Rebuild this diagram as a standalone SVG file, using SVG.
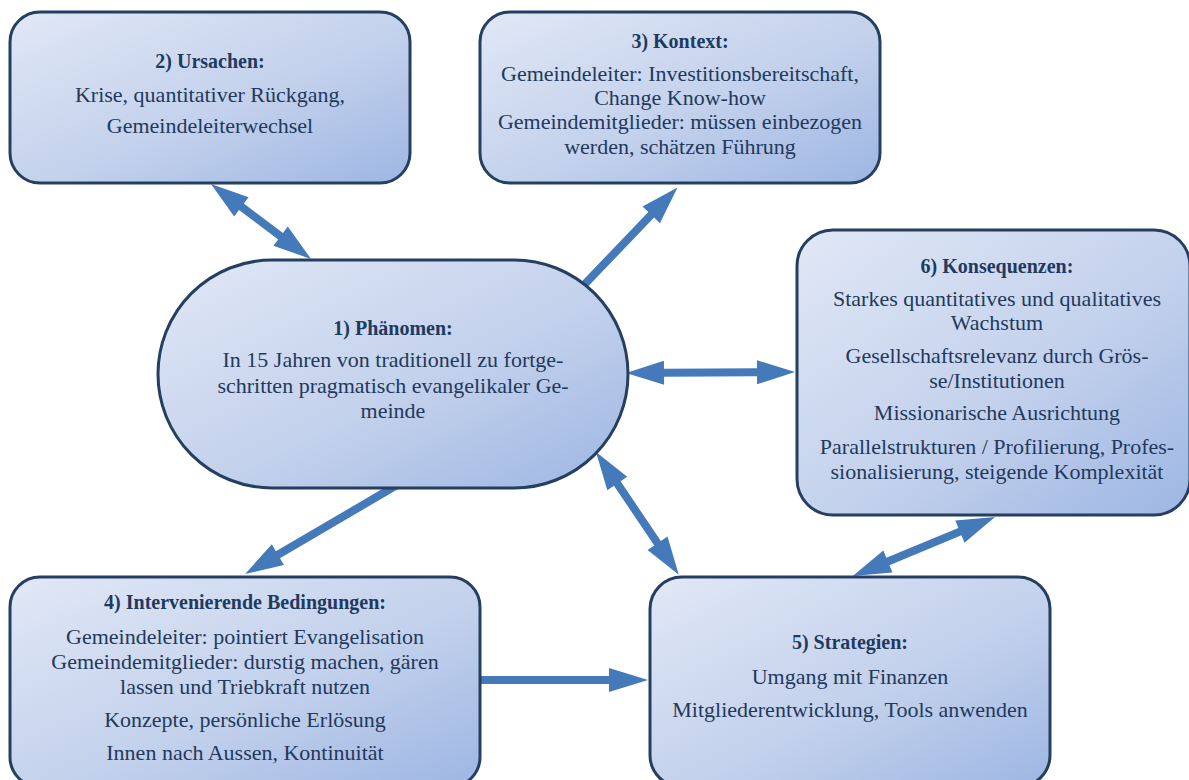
<svg xmlns="http://www.w3.org/2000/svg" width="1189" height="780" viewBox="0 0 1189 780">
  <defs>
    <linearGradient id="fillGrad" x1="0" y1="0" x2="1" y2="1">
      <stop offset="0" stop-color="#E1E8F6"/>
      <stop offset="0.55" stop-color="#C3D1EC"/>
      <stop offset="1" stop-color="#9DB6E3"/>
    </linearGradient>
    <style>
      .box { fill: url(#fillGrad); stroke: #243F60; stroke-width: 3; }
      .title { font-family: "Liberation Serif", serif; font-weight: bold; font-size: 20px; fill: #1F3A5F; text-anchor: middle; }
      .body { font-family: "Liberation Serif", serif; font-size: 22px; fill: #22395C; text-anchor: middle; }
      .arrow { fill: #4479BA; }
    </style>
  </defs>
  <rect width="1189" height="780" fill="#FFFFFF"/>

  <!-- connectors -->
  <g id="connectors" class="arrow">
    <!-- 2 <-> 1 -->
    <g transform="translate(211,184) rotate(36.87)">
      <polygon points="0,0 38,-12 38,-4 87,-4 87,-12 125,0 87,12 87,4 38,4 38,12"/>
    </g>
    <!-- 1 -> 3 -->
    <g transform="translate(582,287) rotate(-46.2)">
      <polygon points="0,-4 100,-4 100,-12 138,0 100,12 100,4 0,4"/>
    </g>
    <!-- 1 <-> 6 -->
    <g transform="translate(626,373) rotate(-0.34)">
      <polygon points="0,0 38,-12 38,-4 131,-4 131,-12 169,0 131,12 131,4 38,4 38,12"/>
    </g>
    <!-- 1 -> 4 -->
    <g transform="translate(397,485) rotate(149.65)">
      <polygon points="0,-4 138,-4 138,-12 176,0 138,12 138,4 0,4"/>
    </g>
    <!-- 1 <-> 5 -->
    <g transform="translate(596,452) rotate(55.98)">
      <polygon points="0,0 38,-12 38,-4 110,-4 110,-12 148,0 110,12 110,4 38,4 38,12"/>
    </g>
    <!-- 6 <-> 5 -->
    <g transform="translate(995,517) rotate(157.44)">
      <polygon points="0,0 38,-12 38,-4 116,-4 116,-12 154,0 116,12 116,4 38,4 38,12"/>
    </g>
    <!-- 4 -> 5 -->
    <g transform="translate(478,680)">
      <polygon points="0,-4 131,-4 131,-12 170,0 131,12 131,4 0,4"/>
    </g>
  </g>

  <!-- 2) Ursachen -->
  <g id="node-ursachen">
    <rect class="box" x="10" y="12" width="400" height="171" rx="30" ry="30"/>
    <text class="title" x="210" y="68">2) Ursachen:</text>
    <text class="body" x="210" y="102">Krise, quantitativer Rückgang,</text>
    <text class="body" x="210" y="133">Gemeindeleiterwechsel</text>
  </g>

  <!-- 3) Kontext -->
  <g id="node-kontext">
    <rect class="box" x="480" y="12" width="400" height="171" rx="30" ry="30"/>
    <text class="title" x="680" y="48">3) Kontext:</text>
    <text class="body" x="680" y="81">Gemeindeleiter: Investitionsbereitschaft,</text>
    <text class="body" x="680" y="105">Change Know-how</text>
    <text class="body" x="680" y="129">Gemeindemitglieder: müssen einbezogen</text>
    <text class="body" x="680" y="154">werden, schätzen Führung</text>
  </g>

  <!-- 1) Phänomen -->
  <g id="node-phaenomen">
    <rect class="box" x="158" y="260" width="470" height="228" rx="114" ry="114"/>
    <text class="title" x="393" y="335">1) Phänomen:</text>
    <text class="body" x="393" y="367">In 15 Jahren von traditionell zu fortge-</text>
    <text class="body" x="393" y="393">schritten pragmatisch evangelikaler Ge-</text>
    <text class="body" x="393" y="418">meinde</text>
  </g>

  <!-- 6) Konsequenzen -->
  <g id="node-konsequenzen">
    <rect class="box" x="797" y="230" width="393" height="285" rx="36" ry="36"/>
    <text class="title" x="997" y="273">6) Konsequenzen:</text>
    <text class="body" x="997" y="306">Starkes quantitatives und qualitatives</text>
    <text class="body" x="997" y="330">Wachstum</text>
    <text class="body" x="997" y="363">Gesellschaftsrelevanz durch Grös-</text>
    <text class="body" x="997" y="388">se/Institutionen</text>
    <text class="body" x="997" y="420">Missionarische Ausrichtung</text>
    <text class="body" x="997" y="454">Parallelstrukturen / Profilierung, Profes-</text>
    <text class="body" x="997" y="479">sionalisierung, steigende Komplexität</text>
  </g>

  <!-- 4) Intervenierende Bedingungen -->
  <g id="node-bedingungen">
    <rect class="box" x="10" y="577" width="470" height="210" rx="30" ry="30"/>
    <text class="title" x="245" y="609">4) Intervenierende Bedingungen:</text>
    <text class="body" x="245" y="644">Gemeindeleiter: pointiert Evangelisation</text>
    <text class="body" x="245" y="669">Gemeindemitglieder: durstig machen, gären</text>
    <text class="body" x="245" y="694">lassen und Triebkraft nutzen</text>
    <text class="body" x="245" y="727">Konzepte, persönliche Erlösung</text>
    <text class="body" x="245" y="760">Innen nach Aussen, Kontinuität</text>
  </g>

  <!-- 5) Strategien -->
  <g id="node-strategien">
    <rect class="box" x="650" y="577" width="400" height="210" rx="32" ry="32"/>
    <text class="title" x="850" y="649">5) Strategien:</text>
    <text class="body" x="850" y="684">Umgang mit Finanzen</text>
    <text class="body" x="850" y="717">Mitgliederentwicklung, Tools anwenden</text>
  </g>
</svg>
